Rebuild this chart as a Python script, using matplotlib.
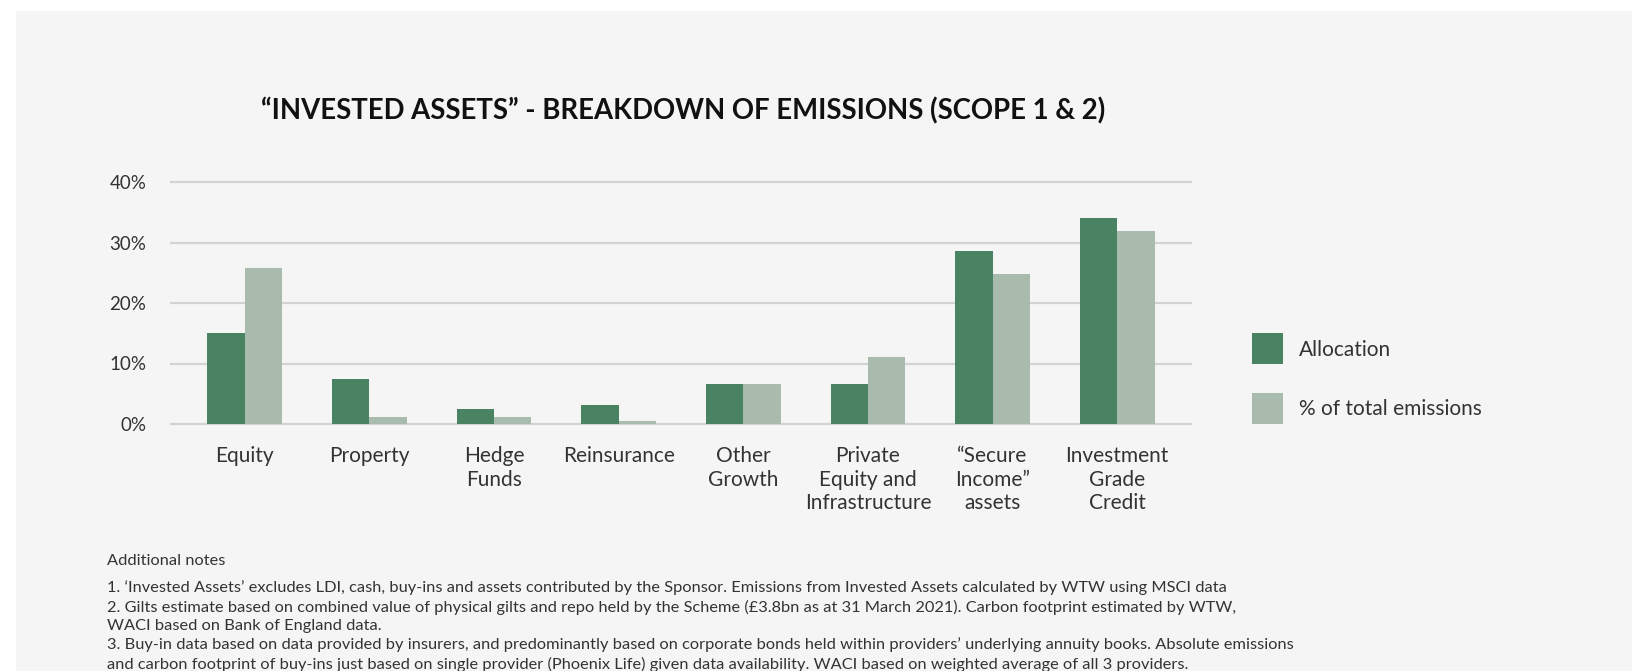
import matplotlib
matplotlib.use("Agg")
from matplotlib import pyplot as plt
from matplotlib.patches import Rectangle
import numpy as np

categories = ["Equity", "Property", "Hedge\nFunds", "Reinsurance", "Other\nGrowth",
              "Private\nEquity and\nInfrastructure", "\u201cSecure\nIncome\u201d\nassets",
              "Investment\nGrade\nCredit"]
allocation = [15.0, 7.4, 2.5, 3.1, 6.6, 6.6, 28.6, 34.0]
emissions = [25.8, 1.2, 1.2, 0.5, 6.6, 11.1, 24.8, 31.9]
y_ticks = [0, 10, 20, 30, 40]
y_labels = ["0%", "10%", "20%", "30%", "40%"]

title = "\u201cINVESTED ASSETS\u201d - BREAKDOWN OF EMISSIONS (SCOPE 1 & 2)"
notes = [
    "Additional notes",
    "1. \u2018Invested Assets\u2019 excludes LDI, cash, buy-ins and assets contributed by the Sponsor. Emissions from Invested Assets calculated by WTW using MSCI data",
    "2. Gilts estimate based on combined value of physical gilts and repo held by the Scheme (\u00a33.8bn as at 31 March 2021). Carbon footprint estimated by WTW,",
    "WACI based on Bank of England data.",
    "3. Buy-in data based on data provided by insurers, and predominantly based on corporate bonds held within providers\u2019 underlying annuity books. Absolute emissions",
    "and carbon footprint of buy-ins just based on single provider (Phoenix Life) given data availability. WACI based on weighted average of all 3 providers.",
]
note_y = [561, 588, 607, 626, 645, 664]

GREEN = "#4a8363"
PALE = "#a9bbad"
BG = "#f5f5f5"
TXT = "#333333"
FONT = ["Lato", "DejaVu Sans"]

plt.rcParams["font.family"] = FONT

W, H = 1632, 671
fig = plt.figure(figsize=(W / 100, H / 100), dpi=100, facecolor="white")
fig.add_artist(Rectangle((16 / W, 0), 1, 1 - 11 / H, transform=fig.transFigure,
                         facecolor=BG, edgecolor="none", zorder=-10))

# axes: 0% at y=424px, 40% at y=182px, x from 170 to 1192
pad = 0.5
px_per = (424 - 182) / 40
top_px = 182 - pad * px_per
bot_px = 424 + pad * px_per
ax = fig.add_axes([170 / W, 1 - bot_px / H, (1192 - 170) / W, (bot_px - top_px) / H])
ax.set_facecolor("none")

x = np.arange(len(categories))
w = 0.3
b1 = ax.bar(x - w / 2, allocation, w, color=GREEN, label="Allocation", zorder=3)
b2 = ax.bar(x + w / 2, emissions, w, color=PALE, label="% of total emissions", zorder=3)

ax.set_xlim(-0.6, len(categories) - 0.4)
ax.set_ylim(-pad, 40 + pad)
ax.set_yticks(y_ticks)
ax.set_yticklabels(y_labels, fontsize=13.5, color=TXT)
ax.set_xticks(x)
ax.set_xticklabels(categories, fontsize=15, color=TXT, linespacing=1.2)
ax.tick_params(axis="y", length=0, pad=17)
ax.tick_params(axis="x", length=0, pad=14)
for s in ax.spines.values():
    s.set_visible(False)
ax.yaxis.grid(True, color="#d3d3d3", linewidth=1.6, zorder=0)
ax.set_axisbelow(True)

fig.text(683 / W, 1 - 111 / H, title, ha="center", va="center", fontsize=19.8,
         fontweight="bold", color="#111111")

fig.legend(handles=[b1, b2], loc="center left", bbox_to_anchor=(1252 / W, 1 - 378.5 / H),
           frameon=False, handlelength=1.49, handleheight=1.91,
           labelspacing=1.35, handletextpad=0.75, borderpad=0, borderaxespad=0,
           labelcolor=TXT, prop={"size": 15})

for line, yy in zip(notes, note_y):
    fig.text(107 / W, 1 - yy / H, line, ha="left", va="center", fontsize=11.8,
             color=TXT)

fig.savefig("out.png", dpi=100, facecolor="white")
